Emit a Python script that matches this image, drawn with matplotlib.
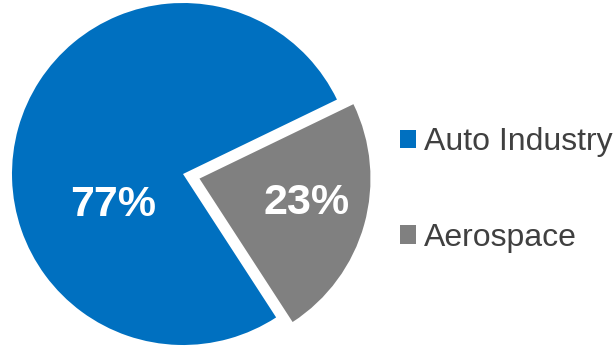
import matplotlib.pyplot as plt

plt.rcParams['font.family'] = ['Liberation Sans', 'DejaVu Sans']

labels = ["Auto Industry", "Aerospace"]
shares = [77, 23]
colors = ["#0070C0", "#808080"]
explode = [0, 0.1]

fig = plt.figure(figsize=(6.15, 3.47), dpi=100)
ax = fig.add_axes([0, 0, 1, 1])

wedges, _ = ax.pie(shares, colors=colors, explode=explode, startangle=25.8,
                   counterclock=True, radius=1.0)

# percentage labels inside the slices
ax.text(-0.41, -0.18, f"{shares[0]}%", color="white", fontsize=31,
        fontweight="bold", ha="center", va="center")
ax.text(0.725, -0.17, f"{shares[1]}%", color="white", fontsize=31,
        fontweight="bold", ha="center", va="center")

ax.set_xlim(-183 / 171, 432 / 171)
ax.set_ylim(-173 / 171, 174 / 171)
ax.set_aspect("equal")
ax.axis("off")

leg = ax.legend(wedges, labels, loc="center left",
                bbox_to_anchor=(400 / 615, 1 - 190 / 347),
                frameon=False, fontsize=23, labelspacing=2.05,
                handlelength=0.5, handleheight=0.5, handletextpad=0.25,
                borderpad=0, borderaxespad=0)
for t in leg.get_texts():
    t.set_color("#404040")

fig.savefig("out.png", dpi=100)
